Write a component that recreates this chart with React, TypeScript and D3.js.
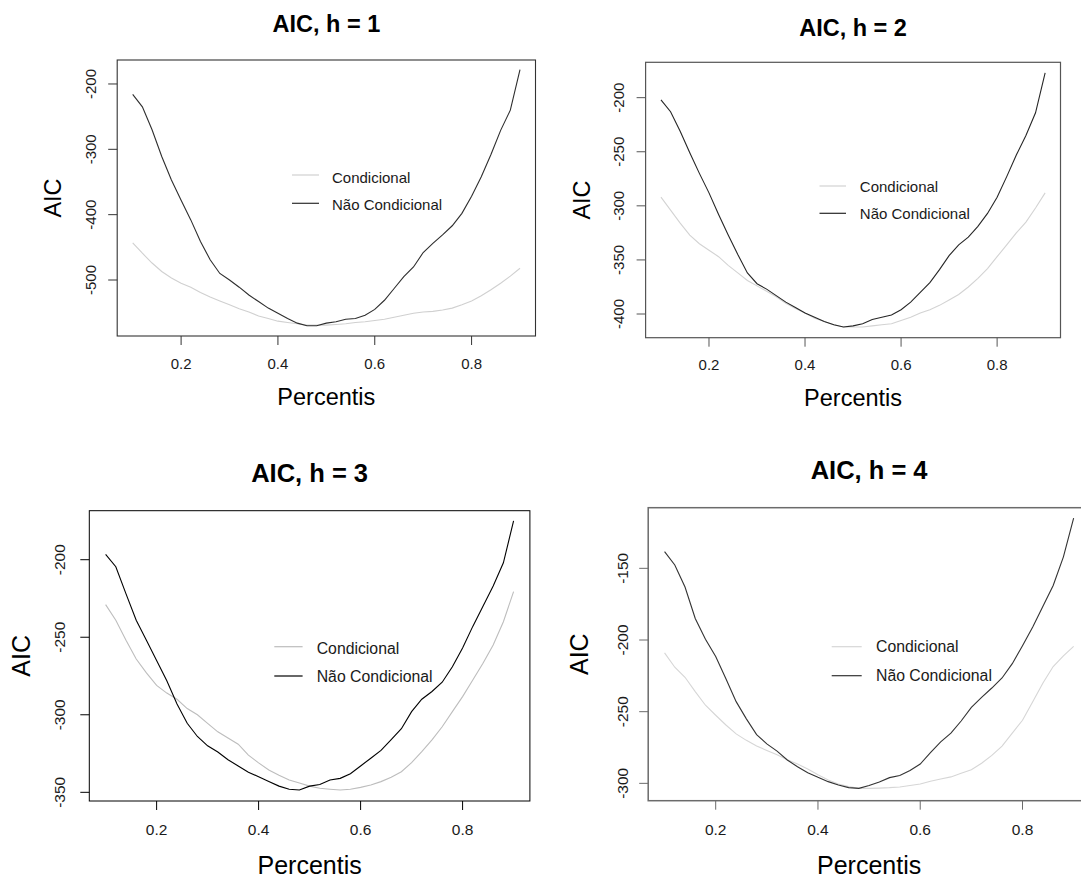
import React from "react";
import * as d3 from "d3";

// ---------- DATA ----------
const percentis = [
  0.1, 0.12, 0.14, 0.16, 0.18, 0.2, 0.22, 0.24, 0.26, 0.28, 0.3, 0.32, 0.34, 0.36,
  0.38, 0.4, 0.42, 0.44, 0.46, 0.48, 0.5, 0.52, 0.54, 0.56, 0.58, 0.6, 0.62, 0.64,
  0.66, 0.68, 0.7, 0.72, 0.74, 0.76, 0.78, 0.8, 0.82, 0.84, 0.86, 0.88, 0.9,
];

const cond1 = [
  -443, -459, -474, -487, -497, -505, -511, -519, -526, -532, -538, -544, -549, -555,
  -559, -563, -565, -567, -569, -569, -569, -568, -567, -565, -564, -562, -560, -557,
  -554, -551, -549, -548, -546, -543, -538, -532, -524, -515, -505, -494, -482,
];
const naoCond1 = [
  -216, -235, -270, -311, -347, -378, -408, -441, -469, -490, -500, -511, -523, -533,
  -543, -551, -559, -566, -570, -570, -566, -564, -560, -559, -554, -545, -531, -513,
  -495, -480, -458, -444, -431, -417, -398, -372, -342, -308, -271, -240, -178,
];

const cond2 = [
  -292, -304, -316, -327, -335, -341, -347, -355, -362, -369, -374, -379, -384, -390,
  -395, -399, -404, -407, -410, -412, -412, -412, -411, -410, -409, -406, -403, -399,
  -396, -392, -387, -382, -375, -367, -358, -347, -336, -325, -315, -302, -288,
];
const naoCond2 = [
  -202, -213, -231, -251, -270, -288, -308, -327, -345, -362, -372, -377, -383, -389,
  -394, -399, -403, -407, -410, -412, -411, -409, -405, -403, -401, -396, -389, -380,
  -371, -359, -346, -336, -329, -319, -307, -292, -273, -253, -235, -214, -177,
];

const cond3 = [
  -229, -239, -252, -264, -273, -281, -286, -290, -296, -300, -305.5, -311, -315, -319,
  -326, -331, -335.6, -339, -342, -344, -346, -347.4, -348, -348.5, -348, -346.8, -345.3,
  -343.1, -340.3, -336.7, -330.9, -323.8, -316.2, -307.7, -298, -288.3, -277.6, -266.8,
  -255, -240, -220.6,
];
const naoCond3 = [
  -196.6, -204.5, -222, -239, -252, -265, -278, -293, -305.5, -314, -320, -324, -329,
  -333, -337, -340, -343, -346, -348, -348.5, -346, -345, -342, -341, -338, -333, -328,
  -323, -316, -309, -298, -290, -285, -279, -269, -257, -243, -230, -217, -202, -175,
];

const cond4 = [
  -209, -219, -226, -236, -245.5, -252.5, -259.3, -265.5, -270, -274, -277, -280, -283.5,
  -286.5, -290, -294, -297.7, -300.5, -302.3, -303.5, -303.5, -303.3, -303, -302.5,
  -301.5, -300.5, -298.5, -297, -295.5, -293, -290.5, -286, -280.5, -274, -265, -256,
  -243, -230, -218.5, -211, -204.5,
];
const naoCond4 = [
  -138.4, -147.7, -163, -185, -199.5, -211.5, -227, -243, -255, -266, -272.5, -277.5,
  -283.7, -288.4, -292.6, -295.8, -298.8, -301.2, -303, -303.5, -301.5, -299, -296,
  -294.5, -291, -286.5, -278.5, -271, -265, -256.5, -247, -240, -233.5, -226.5, -216.5,
  -204, -191, -176.5, -162, -142, -115,
];

const titles = ["AIC, h = 1", "AIC, h = 2", "AIC, h = 3", "AIC, h = 4"];
const xTicks = [0.2, 0.4, 0.6, 0.8];
const yTicks1 = [-500, -400, -300, -200];
const yTicks2 = [-400, -350, -300, -250, -200];
const yTicks3 = [-350, -300, -250, -200];
const yTicks4 = [-300, -250, -200, -150];
const legendLabels = ["Condicional", "Não Condicional"];
const xLabel = "Percentis";
const yLabel = "AIC";

// ---------- LAYOUT ----------
const FONT = "'Liberation Sans', Arial, Helvetica, sans-serif";

type Panel = {
  title: string;
  cond: number[];
  nao: number[];
  yTicks: number[];
  box: { l: number; r: number; t: number; b: number };
  xDom: [number, number];
  yDom: [number, number];
  titleY: number;
  titleSize: number;
  labelSize: number;
  tickSize: number;
  legendSize: number;
  xTickLabelY: number;
  xLabelY: number;
  yTickLabelX: number;
  yLabelX: number;
  leg: { x0: number; x1: number; tx: number; ly: number[]; ty: number[] };
  dark: string;
  light: string;
  boxColor: string;
  boxWidth: number;
};

const panels: Panel[] = [
  {
    title: titles[0], cond: cond1, nao: naoCond1, yTicks: yTicks1,
    box: { l: 117.2, r: 535.5, t: 60, b: 336 },
    xDom: [0.068, 0.932], yDom: [-585.7, -163.3],
    titleY: 32, titleSize: 23.5, labelSize: 23.5, tickSize: 15, legendSize: 15,
    xTickLabelY: 369, xLabelY: 405, yTickLabelX: 95.5, yLabelX: 61,
    leg: { x0: 292, x1: 319, tx: 332, ly: [175, 203.3], ty: [182.5, 210] },
    dark: "#2e2e2e", light: "#d0d0d0", boxColor: "#333", boxWidth: 1.1,
  },
  {
    title: titles[1], cond: cond2, nao: naoCond2, yTicks: yTicks2,
    box: { l: 645.6, r: 1060.5, t: 62.3, b: 337.7 },
    xDom: [0.068, 0.932], yDom: [-421.9, -167.3],
    titleY: 35.5, titleSize: 23.5, labelSize: 23.5, tickSize: 15, legendSize: 15,
    xTickLabelY: 370, xLabelY: 406, yTickLabelX: 624, yLabelX: 590,
    leg: { x0: 819.5, x1: 846, tx: 859.8, ly: [186, 213.3], ty: [192, 219.3] },
    dark: "#262626", light: "#d3d3d3", boxColor: "#555", boxWidth: 1.2,
  },
  {
    title: titles[2], cond: cond3, nao: naoCond3, yTicks: yTicks3,
    box: { l: 89.3, r: 529.9, t: 510.7, b: 801 },
    xDom: [0.068, 0.932], yDom: [-355.6, -168.4],
    titleY: 482.3, titleSize: 25.5, labelSize: 25, tickSize: 15.5, legendSize: 15.8,
    xTickLabelY: 835.4, xLabelY: 873.8, yTickLabelX: 65, yLabelX: 30.4,
    leg: { x0: 274.3, x1: 302.6, tx: 316.7, ly: [646.7, 676], ty: [653.8, 682.2] },
    dark: "#000", light: "#bdbdbd", boxColor: "#000", boxWidth: 1,
  },
  {
    title: titles[3], cond: cond4, nao: naoCond4, yTicks: yTicks4,
    box: { l: 648.2, r: 1090, t: 507.7, b: 800.7 },
    xDom: [0.068, 0.932], yDom: [-312.1, -107.7],
    titleY: 479, titleSize: 25.5, labelSize: 25, tickSize: 15.5, legendSize: 15.8,
    xTickLabelY: 835.4, xLabelY: 873.8, yTickLabelX: 627.7, yLabelX: 588.3,
    leg: { x0: 831.7, x1: 861.7, tx: 876, ly: [646.7, 675.7], ty: [652.2, 681.2] },
    dark: "#333", light: "#d6d6d6", boxColor: "#6b6b6b", boxWidth: 1.5,
  },
];

function PanelView({ p }: { p: Panel }) {
  const { box } = p;
  const x = d3.scaleLinear().domain(p.xDom).range([box.l, box.r]);
  const y = d3.scaleLinear().domain(p.yDom).range([box.b, box.t]);
  const line = d3
    .line<number>()
    .x((_, i) => x(percentis[i]))
    .y((d) => y(d));
  const cx = (box.l + box.r) / 2;
  const cy = (box.t + box.b) / 2;
  const tickLen = 9;
  return (
    <g>
      <text x={cx} y={p.titleY} textAnchor="middle" fontFamily={FONT} fontWeight="bold" fontSize={p.titleSize} fill="#000">
        {p.title}
      </text>
      <path d={line(p.cond) || ""} fill="none" stroke={p.light} strokeWidth={1.1} />
      <path d={line(p.nao) || ""} fill="none" stroke={p.dark} strokeWidth={1.1} />
      <rect x={box.l} y={box.t} width={box.r - box.l} height={box.b - box.t} fill="none" stroke={p.boxColor} strokeWidth={p.boxWidth} />
      {xTicks.map((t) => (
        <g key={"x" + t}>
          <line x1={x(t)} x2={x(t)} y1={box.b} y2={box.b + tickLen} stroke={p.boxColor} strokeWidth={1} />
          <text x={x(t)} y={p.xTickLabelY} textAnchor="middle" fontFamily={FONT} fontSize={p.tickSize} fill="#1a1a1a">
            {t.toFixed(1)}
          </text>
        </g>
      ))}
      {p.yTicks.map((t) => (
        <g key={"y" + t}>
          <line x1={box.l - tickLen} x2={box.l} y1={y(t)} y2={y(t)} stroke={p.boxColor} strokeWidth={1} />
          <text
            transform={`translate(${p.yTickLabelX},${y(t)}) rotate(-90)`}
            textAnchor="middle"
            fontFamily={FONT}
            fontSize={p.tickSize}
            fill="#1a1a1a"
          >
            {String(t)}
          </text>
        </g>
      ))}
      <text x={cx} y={p.xLabelY} textAnchor="middle" fontFamily={FONT} fontSize={p.labelSize} fill="#000">
        {xLabel}
      </text>
      <text transform={`translate(${p.yLabelX},${cy}) rotate(-90)`} textAnchor="middle" fontFamily={FONT} fontSize={p.labelSize} fill="#000">
        {yLabel}
      </text>
      {legendLabels.map((lab, i) => (
        <g key={lab}>
          <line x1={p.leg.x0} x2={p.leg.x1} y1={p.leg.ly[i]} y2={p.leg.ly[i]} stroke={i === 0 ? p.light : p.dark} strokeWidth={1.2} />
          <text x={p.leg.tx} y={p.leg.ty[i]} fontFamily={FONT} fontSize={p.legendSize} fill="#1a1a1a">
            {lab}
          </text>
        </g>
      ))}
    </g>
  );
}

export default function App() {
  return (
    <svg
      width={1081}
      height={879}
      viewBox="0 0 1081 879"
      style={{ position: "absolute", left: 0, top: 0, background: "#fff", overflow: "hidden" }}
    >
      <rect x={0} y={0} width={1081} height={879} fill="#fff" />
      {panels.map((p) => (
        <PanelView key={p.title} p={p} />
      ))}
    </svg>
  );
}
